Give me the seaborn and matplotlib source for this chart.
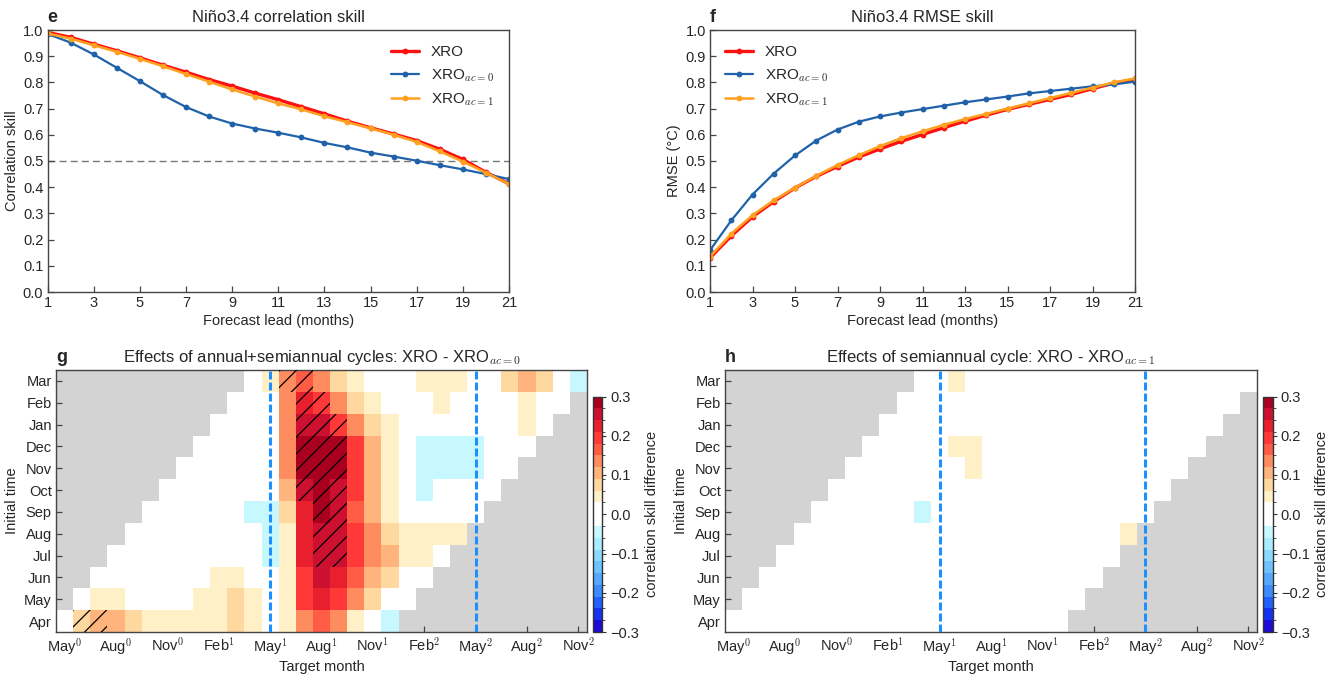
import numpy as np
import pandas as pd
import matplotlib
matplotlib.use("Agg")
import matplotlib.pyplot as plt
import seaborn as sns
from matplotlib.colors import ListedColormap, BoundaryNorm
from matplotlib.patches import Rectangle

# ---------------- data ----------------
leads = list(range(1, 22))

corr_xro = [0.991, 0.972, 0.946, 0.921, 0.894, 0.866, 0.839, 0.811, 0.786, 0.759, 0.734,
            0.707, 0.680, 0.652, 0.627, 0.603, 0.578, 0.545, 0.506, 0.457, 0.413]
corr_ac0 = [0.985, 0.952, 0.907, 0.856, 0.805, 0.752, 0.706, 0.670, 0.643, 0.624, 0.608,
            0.590, 0.569, 0.552, 0.532, 0.517, 0.501, 0.484, 0.468, 0.450, 0.431]
corr_ac1 = [0.987, 0.967, 0.942, 0.917, 0.890, 0.862, 0.832, 0.803, 0.773, 0.746, 0.720,
            0.697, 0.671, 0.648, 0.625, 0.600, 0.573, 0.537, 0.498, 0.455, 0.412]

rmse_xro = [0.130, 0.214, 0.287, 0.345, 0.397, 0.441, 0.479, 0.515, 0.546, 0.575, 0.601,
            0.627, 0.652, 0.675, 0.697, 0.716, 0.735, 0.754, 0.776, 0.797, 0.811]
rmse_ac0 = [0.159, 0.273, 0.372, 0.452, 0.521, 0.578, 0.620, 0.650, 0.670, 0.685, 0.698,
            0.711, 0.724, 0.735, 0.746, 0.758, 0.767, 0.776, 0.785, 0.792, 0.803]
rmse_ac1 = [0.135, 0.222, 0.293, 0.350, 0.398, 0.443, 0.485, 0.522, 0.557, 0.587, 0.613,
            0.638, 0.660, 0.680, 0.700, 0.720, 0.740, 0.760, 0.780, 0.800, 0.815]

init_months = ["Apr", "May", "Jun", "Jul", "Aug", "Sep", "Oct", "Nov", "Dec", "Jan", "Feb", "Mar"]
target_labels = [r"May$^{0}$", r"Aug$^{0}$", r"Nov$^{0}$", r"Feb$^{1}$", r"May$^{1}$", r"Aug$^{1}$",
                 r"Nov$^{1}$", r"Feb$^{2}$", r"May$^{2}$", r"Aug$^{2}$", r"Nov$^{2}$"]
n_target = 31
n_lead = 20

# skill difference XRO - XRO_ac=0, per initial month, for its 20 valid target months
g_rows = {
    "Apr": [0, .08, .11, .11, .08, .05, .05, .05, .05, .05, .08, .05, 0, .05, .14, .17, .14, .05, 0, -.04],
    "May": [0, .05, .05, 0, 0, 0, 0, .05, .05, .08, .05, 0, .05, .20, .23, .20, .14, .08, 0, 0],
    "Jun": [0, 0, 0, 0, 0, 0, 0, .05, .05, 0, 0, .05, .20, .26, .23, .17, .11, .08, 0, 0],
    "Jul": [0, 0, 0, 0, 0, 0, 0, 0, 0, -.04, .05, .23, .26, .26, .20, .14, .11, .05, .05, 0],
    "Aug": [0, 0, 0, 0, 0, 0, 0, 0, -.04, .05, .23, .26, .26, .20, .14, .08, .05, .05, .05, .05],
    "Sep": [0, 0, 0, 0, 0, 0, -.04, -.04, .08, .23, .29, .26, .17, .11, .05, 0, 0, 0, 0, 0],
    "Oct": [0, 0, 0, 0, 0, 0, 0, .11, .26, .29, .26, .20, .11, .05, 0, -.04, 0, 0, 0, 0],
    "Nov": [0, 0, 0, 0, 0, 0, .14, .29, .29, .29, .20, .11, .05, 0, -.04, -.04, -.04, -.04, 0, 0],
    "Dec": [0, 0, 0, 0, 0, .14, .29, .29, .29, .20, .11, .05, 0, -.04, -.04, -.04, -.04, 0, 0, 0],
    "Jan": [0, 0, 0, 0, .14, .26, .26, .20, .14, .08, .05, 0, 0, 0, 0, 0, 0, 0, .05, 0],
    "Feb": [0, 0, 0, .14, .23, .20, .14, .08, .05, 0, 0, 0, .05, 0, 0, 0, 0, .05, 0, 0],
    "Mar": [0, .05, .14, .17, .14, .08, .05, 0, 0, 0, .05, .05, .05, 0, 0, .08, .11, .08, 0, -.04],
}
# significant cells (target-month column index) in panel g
g_signif = {
    "Apr": [1, 2], "Jul": [15, 16], "Aug": [15, 16], "Sep": [15, 16], "Oct": [14, 15, 16],
    "Nov": [14, 15, 16], "Dec": [14, 15, 16], "Jan": [14, 15, 16], "Feb": [14, 15], "Mar": [13, 14],
}

# skill difference XRO - XRO_ac=1
h_rows = {
    "Apr": [0] * 20,
    "May": [0] * 20,
    "Jun": [0] * 20,
    "Jul": [0] * 20,
    "Aug": [0] * 19 + [.05],
    "Sep": [0, 0, 0, 0, 0, 0, -.04, 0, 0, 0, 0, 0, 0, 0, 0, 0, 0, 0, 0, 0],
    "Oct": [0] * 20,
    "Nov": [0, 0, 0, 0, 0, 0, 0, .05, 0, 0, 0, 0, 0, 0, 0, 0, 0, 0, 0, 0],
    "Dec": [0, 0, 0, 0, 0, .05, .05, 0, 0, 0, 0, 0, 0, 0, 0, 0, 0, 0, 0, 0],
    "Jan": [0] * 20,
    "Feb": [0] * 20,
    "Mar": [0, 0, .05, 0, 0, 0, 0, 0, 0, 0, 0, 0, 0, 0, 0, 0, 0, 0, 0, 0],
}
h_signif = {}

cb_colors = ["#1e0ad2", "#1432f0", "#2060ff", "#3c8cff", "#56a8ff", "#6ec2ff", "#8cd8ff",
             "#aaecff", "#c8f8ff", "#ffffff", "#ffffff", "#fff0c8", "#ffd8a0", "#ffb47e",
             "#ff8c5e", "#ff5c46", "#ff3838", "#e8202e", "#cc1030", "#a8001e"]
cb_bounds = np.linspace(-0.3, 0.3, 21)

# ---------------- style ----------------
sns.set_theme(style="ticks")
plt.rcParams["font.family"] = ["Liberation Sans", "DejaVu Sans"]
plt.rcParams["mathtext.fontset"] = "cm"
plt.rcParams["hatch.linewidth"] = 0.9
plt.rcParams["hatch.color"] = "black"

W, H = 1334, 677
fig = plt.figure(figsize=(W / 100, H / 100), dpi=100)


def box(l, t, r, b):
    return [l / W, 1 - b / H, (r - l) / W, (b - t) / H]


SPINE = "#444444"
TICK_FS = 10.5
LAB_FS = 10.5


def style_axes(ax):
    for s in ax.spines.values():
        s.set_visible(True)
        s.set_color(SPINE)
        s.set_linewidth(1.0)
    ax.tick_params(direction="in", length=4, width=0.9, color=SPINE, labelsize=TICK_FS, pad=3)


def line_panel(ax, series, ylabel, title, letter, loc):
    for name, vals, color, lw in series:
        df = pd.DataFrame({"lead": leads, "value": vals})
        sns.lineplot(data=df, x="lead", y="value", ax=ax, color=color, lw=lw, marker="o",
                     markersize=4.2, markeredgewidth=0, label=name)
    ax.set_xlim(1, 21)
    ax.set_ylim(0, 1)
    ax.set_xticks(range(1, 22, 2))
    yt = np.round(np.arange(0, 1.01, 0.1), 1)
    ax.set_yticks(yt)
    ax.set_yticklabels([f"{v:.1f}" for v in yt])
    ax.set_xlabel("Forecast lead (months)", fontsize=LAB_FS, labelpad=3)
    ax.set_ylabel(ylabel, fontsize=LAB_FS, labelpad=3)
    ax.set_title(title, fontsize=12, pad=6)
    ax.set_title(letter, loc="left", fontweight="bold", fontsize=13, pad=6)
    style_axes(ax)
    ax.legend(loc=loc, frameon=False, fontsize=11, handlelength=1.8, labelspacing=0.5,
              borderaxespad=0.6)


series_corr = [("XRO", corr_xro, "#ff1010", 2.4),
               (r"XRO$_{ac=0}$", corr_ac0, "#1f62aa", 1.6),
               (r"XRO$_{ac=1}$", corr_ac1, "#ffa020", 1.8)]
series_rmse = [("XRO", rmse_xro, "#ff1010", 2.4),
               (r"XRO$_{ac=0}$", rmse_ac0, "#1f62aa", 1.6),
               (r"XRO$_{ac=1}$", rmse_ac1, "#ffa020", 1.8)]

ax_e = fig.add_axes(box(47.5, 30, 509, 292))
ax_e.axhline(0.5, color="#777777", ls=(0, (5, 3)), lw=1.0, zorder=0)
line_panel(ax_e, series_corr, "Correlation skill", "Niño3.4 correlation skill", "e", "upper right")

ax_f = fig.add_axes(box(710, 30, 1135, 292))
line_panel(ax_f, series_rmse, "RMSE (°C)", "Niño3.4 RMSE skill", "f", "upper left")

cmap = ListedColormap(cb_colors)
norm = BoundaryNorm(cb_bounds, cmap.N)


def build_grid(rows):
    grid = np.full((12, n_target), np.nan)
    for i, m in enumerate(init_months):
        grid[i, i:i + n_lead] = rows[m]
    # display order: Mar on top
    return pd.DataFrame(grid[::-1], index=init_months[::-1], columns=range(n_target))


def heat_panel(ax, cax, rows, signif, title, letter):
    df = build_grid(rows)
    sns.heatmap(df, mask=df.isna(), cmap=cmap, norm=norm, ax=ax, cbar_ax=cax,
                xticklabels=False, yticklabels=False, linewidths=0,
                cbar_kws={"ticks": np.round(np.arange(-0.3, 0.31, 0.1), 1)})
    ax.set_facecolor("#d3d3d3")
    for m, cols in signif.items():
        k = 11 - init_months.index(m)
        for c in cols:
            ax.add_patch(Rectangle((c, k), 1, 1, fill=False, hatch="//", lw=0,
                                   edgecolor="black", zorder=3))
    for xv in (12.5, 24.5):
        ax.axvline(xv, color="#1e8fff", lw=2.2, ls=(0, (2.6, 1.0)), zorder=4)
    ax.set_xticks(np.arange(0, n_target, 3) + 0.5)
    ax.set_xticklabels(target_labels, rotation=0)
    ax.set_yticks(np.arange(12) + 0.5)
    ax.set_yticklabels(init_months[::-1], rotation=0)
    ax.set_xlabel("Target month", fontsize=LAB_FS, labelpad=2)
    ax.set_ylabel("Initial time", fontsize=LAB_FS, labelpad=4)
    ax.set_title(title, fontsize=12, pad=6)
    ax.set_title(letter, loc="left", fontweight="bold", fontsize=13, pad=6)
    style_axes(ax)
    cb = ax.collections[0].colorbar
    cb.outline.set_linewidth(1.0)
    cb.outline.set_edgecolor("#333333")
    ticks = np.round(np.arange(-0.3, 0.31, 0.1), 1)
    cb.set_ticks(ticks)
    cb.set_ticklabels([f"{t:.1f}".replace("-", "\u2212") for t in ticks])
    cb.ax.set_yticks(cb_bounds, minor=True)
    cb.ax.tick_params(which="major", labelsize=TICK_FS, length=3, width=0.8, color="#333333", pad=3)
    cb.ax.tick_params(which="minor", length=2, width=0.6, color="#333333")
    cb.set_label("correlation skill difference", fontsize=LAB_FS, labelpad=4)


ax_g = fig.add_axes(box(56, 370, 587, 632))
cax_g = fig.add_axes(box(593, 396.5, 602, 632))
heat_panel(ax_g, cax_g, g_rows, g_signif,
           r"Effects of annual+semiannual cycles: XRO - XRO$_{ac=0}$", "g")

ax_h = fig.add_axes(box(725, 370, 1257, 632))
cax_h = fig.add_axes(box(1263, 396.5, 1272.5, 632))
heat_panel(ax_h, cax_h, h_rows, h_signif,
           r"Effects of semiannual cycle: XRO - XRO$_{ac=1}$", "h")

fig.savefig("out.png", dpi=100)
